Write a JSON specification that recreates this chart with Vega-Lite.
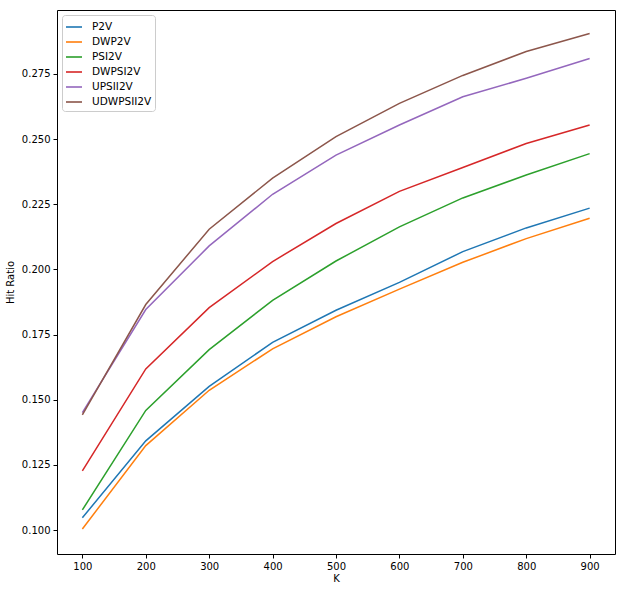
{
  "$schema": "https://vega.github.io/schema/vega-lite/v6.json",
  "autosize": "none",
  "width": 558,
  "height": 544,
  "padding": {"left": 57, "top": 10, "right": 10, "bottom": 38},
  "background": "white",
  "config": {
    "font": "DejaVu Sans",
    "view": {"stroke": "black", "strokeWidth": 1},
    "axis": {
      "grid": false,
      "domain": false,
      "tickColor": "black",
      "tickSize": 4,
      "tickWidth": 1,
      "labelFontSize": 10,
      "labelColor": "black",
      "labelPadding": 3,
      "titleFontSize": 10,
      "titleFontWeight": "normal",
      "titleColor": "black"
    }
  },
  "data": {
    "values": [
      {"K": 100, "model": "P2V", "hit": 0.1047},
      {"K": 200, "model": "P2V", "hit": 0.1342},
      {"K": 300, "model": "P2V", "hit": 0.1551},
      {"K": 400, "model": "P2V", "hit": 0.1720},
      {"K": 500, "model": "P2V", "hit": 0.1843},
      {"K": 600, "model": "P2V", "hit": 0.1950},
      {"K": 700, "model": "P2V", "hit": 0.2068},
      {"K": 800, "model": "P2V", "hit": 0.2159},
      {"K": 900, "model": "P2V", "hit": 0.2235},
      {"K": 100, "model": "DWP2V", "hit": 0.1004},
      {"K": 200, "model": "DWP2V", "hit": 0.1324},
      {"K": 300, "model": "DWP2V", "hit": 0.1536},
      {"K": 400, "model": "DWP2V", "hit": 0.1695},
      {"K": 500, "model": "DWP2V", "hit": 0.1818},
      {"K": 600, "model": "DWP2V", "hit": 0.1924},
      {"K": 700, "model": "DWP2V", "hit": 0.2027},
      {"K": 800, "model": "DWP2V", "hit": 0.2118},
      {"K": 900, "model": "DWP2V", "hit": 0.2196},
      {"K": 100, "model": "PSI2V", "hit": 0.1077},
      {"K": 200, "model": "PSI2V", "hit": 0.1459},
      {"K": 300, "model": "PSI2V", "hit": 0.1692},
      {"K": 400, "model": "PSI2V", "hit": 0.1881},
      {"K": 500, "model": "PSI2V", "hit": 0.2032},
      {"K": 600, "model": "PSI2V", "hit": 0.2163},
      {"K": 700, "model": "PSI2V", "hit": 0.2274},
      {"K": 800, "model": "PSI2V", "hit": 0.2362},
      {"K": 900, "model": "PSI2V", "hit": 0.2444},
      {"K": 100, "model": "DWPSI2V", "hit": 0.1227},
      {"K": 200, "model": "DWPSI2V", "hit": 0.1618},
      {"K": 300, "model": "DWPSI2V", "hit": 0.1853},
      {"K": 400, "model": "DWPSI2V", "hit": 0.2030},
      {"K": 500, "model": "DWPSI2V", "hit": 0.2176},
      {"K": 600, "model": "DWPSI2V", "hit": 0.2299},
      {"K": 700, "model": "DWPSI2V", "hit": 0.2391},
      {"K": 800, "model": "DWPSI2V", "hit": 0.2483},
      {"K": 900, "model": "DWPSI2V", "hit": 0.2554},
      {"K": 100, "model": "UPSII2V", "hit": 0.1450},
      {"K": 200, "model": "UPSII2V", "hit": 0.1846},
      {"K": 300, "model": "UPSII2V", "hit": 0.2090},
      {"K": 400, "model": "UPSII2V", "hit": 0.2288},
      {"K": 500, "model": "UPSII2V", "hit": 0.2438},
      {"K": 600, "model": "UPSII2V", "hit": 0.2554},
      {"K": 700, "model": "UPSII2V", "hit": 0.2662},
      {"K": 800, "model": "UPSII2V", "hit": 0.2733},
      {"K": 900, "model": "UPSII2V", "hit": 0.2809},
      {"K": 100, "model": "UDWPSII2V", "hit": 0.1442},
      {"K": 200, "model": "UDWPSII2V", "hit": 0.1865},
      {"K": 300, "model": "UDWPSII2V", "hit": 0.2154},
      {"K": 400, "model": "UDWPSII2V", "hit": 0.2350},
      {"K": 500, "model": "UDWPSII2V", "hit": 0.2509},
      {"K": 600, "model": "UDWPSII2V", "hit": 0.2637},
      {"K": 700, "model": "UDWPSII2V", "hit": 0.2744},
      {"K": 800, "model": "UDWPSII2V", "hit": 0.2836},
      {"K": 900, "model": "UDWPSII2V", "hit": 0.2905}
    ]
  },
  "mark": {"type": "line", "strokeWidth": 1.5},
  "encoding": {
    "x": {
      "field": "K",
      "type": "quantitative",
      "title": "K",
      "scale": {"domain": [60, 940], "nice": false, "zero": false},
      "axis": {"values": [100, 200, 300, 400, 500, 600, 700, 800, 900], "titlePadding": 2}
    },
    "y": {
      "field": "hit",
      "type": "quantitative",
      "title": "Hit Ratio",
      "scale": {"domain": [0.0908, 0.2995], "nice": false, "zero": false},
      "axis": {"values": [0.1, 0.125, 0.15, 0.175, 0.2, 0.225, 0.25, 0.275], "format": ".3f", "titlePadding": 6}
    },
    "color": {
      "field": "model",
      "type": "nominal",
      "sort": ["P2V", "DWP2V", "PSI2V", "DWPSI2V", "UPSII2V", "UDWPSII2V"],
      "scale": {
        "domain": ["P2V", "DWP2V", "PSI2V", "DWPSI2V", "UPSII2V", "UDWPSII2V"],
        "range": ["#1f77b4", "#ff7f0e", "#2ca02c", "#d62728", "#9467bd", "#8c564b"]
      },
      "legend": {
        "title": null,
        "orient": "top-left",
        "offset": 5,
        "symbolType": "stroke",
        "symbolSize": 256,
        "symbolStrokeWidth": 2,
        "symbolOpacity": 0.8,
        "labelFontSize": 10.5,
        "labelColor": "black",
        "labelOffset": 9,
        "rowPadding": 0,
        "padding": 3,
        "strokeColor": "#cccccc",
        "fillColor": "white",
        "cornerRadius": 3
      }
    }
  }
}
